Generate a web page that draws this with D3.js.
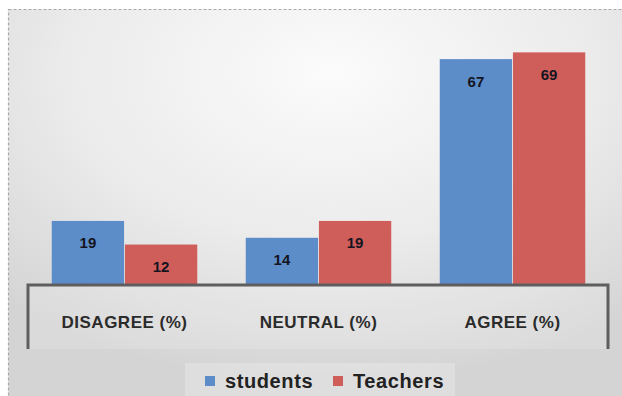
<!DOCTYPE html>
<html>
<head>
<meta charset="utf-8">
<script src="https://cdn.jsdelivr.net/npm/d3@7/dist/d3.min.js"></script>
<style>
  html, body { margin: 0; padding: 0; background: #fff; }
  svg { display: block; }
</style>
</head>
<body>
<div id="chart"></div>
<script>
// Survey responses, percentage per answer group
const categories = ["DISAGREE (%)", "NEUTRAL (%)", "AGREE (%)"];
const seriesNames = ["students", "Teachers"];
const students = [19, 14, 67];
const teachers = [12, 19, 69];
const seriesColors = ["#5c8dc9", "#cf5e5b"];

const W = 622, H = 396;
const svg = d3.select("#chart").append("svg").attr("width", W).attr("height", H);

// Chart area background: soft radial gradient with a dashed frame
const defs = svg.append("defs");
const bg = defs.append("radialGradient").attr("id", "bg")
  .attr("cx", "50%").attr("cy", "15%").attr("r", "75%");
bg.append("stop").attr("offset", "0%").attr("stop-color", "#fbfbfb");
bg.append("stop").attr("offset", "55%").attr("stop-color", "#ebebeb");
bg.append("stop").attr("offset", "100%").attr("stop-color", "#d4d4d4");

svg.append("rect")
  .attr("x", 8.5).attr("y", 9.5).attr("width", W + 20).attr("height", H + 20)
  .attr("fill", "url(#bg)")
  .attr("stroke", "#a8a8a8").attr("stroke-width", 1.2)
  .attr("stroke-dasharray", "3,2");

// Scales
const x = d3.scaleBand().domain(categories).range([27.5, 609.5])
  .paddingInner(0.25).paddingOuter(0.125);
const xs = d3.scaleBand().domain(seriesNames).range([0, x.bandwidth()]).paddingInner(0.012);
const y = d3.scaleLinear().domain([0, 70]).range([285, 49]);

const data = categories.map((c, i) => ({
  category: c,
  values: [
    { series: seriesNames[0], value: students[i], color: seriesColors[0] },
    { series: seriesNames[1], value: teachers[i], color: seriesColors[1] }
  ]
}));

// Floor box holding the category labels
const floorTop = y(0), floorBottom = 349;
svg.append("rect")
  .attr("x", 27.5).attr("y", floorTop)
  .attr("width", 581).attr("height", floorBottom - floorTop)
  .attr("fill", "#ffffff").attr("opacity", 0.15);

// Bars
const groups = svg.append("g").selectAll("g").data(data).join("g")
  .attr("transform", d => `translate(${x(d.category)},0)`);

groups.selectAll("rect").data(d => d.values).join("rect")
  .attr("x", d => xs(d.series))
  .attr("y", d => y(d.value))
  .attr("width", xs.bandwidth())
  .attr("height", d => y(0) - y(d.value))
  .attr("fill", d => d.color);

// Value labels just inside each bar top
groups.selectAll("text").data(d => d.values).join("text")
  .attr("x", d => xs(d.series) + xs.bandwidth() / 2)
  .attr("y", d => y(d.value) + 22)
  .attr("text-anchor", "middle")
  .attr("dominant-baseline", "central")
  .attr("font-family", "'Liberation Sans', Arial, sans-serif")
  .attr("font-weight", "bold")
  .attr("font-size", 15)
  .attr("fill", "#141420")
  .text(d => d.value);

// Floor outline: top edge plus the two side walls
svg.append("path")
  .attr("d", d3.line()([[28, floorBottom], [28, floorTop], [608, floorTop], [608, floorBottom]]))
  .attr("fill", "none")
  .attr("stroke", "#5e5e5e")
  .attr("stroke-width", 3);

// Category axis labels
const xAxis = d3.axisBottom(x).tickSize(0).tickPadding(0);
const axisG = svg.append("g").attr("transform", `translate(0,${floorTop + 43})`).call(xAxis);
axisG.select(".domain").remove();
axisG.selectAll("text")
  .attr("font-family", "'Liberation Sans', Arial, sans-serif")
  .attr("font-weight", "bold")
  .attr("font-size", 17)
  .attr("letter-spacing", 0.5)
  .attr("fill", "#2b2b2b")
  .attr("dy", "0");

// Legend
svg.append("rect")
  .attr("x", 185).attr("y", 363).attr("width", 270).attr("height", 40)
  .attr("fill", "#f2f2f2").attr("opacity", 0.35);

const legend = svg.append("g").attr("transform", "translate(205,376)");
const items = legend.selectAll("g").data(seriesNames).join("g")
  .attr("transform", (d, i) => `translate(${i * 128},0)`);
items.append("rect")
  .attr("width", 10).attr("height", 10)
  .attr("fill", (d, i) => seriesColors[i]);
items.append("text")
  .attr("x", 20).attr("y", 12)
  .attr("font-family", "'Liberation Sans', Arial, sans-serif")
  .attr("font-weight", "bold")
  .attr("font-size", 20)
  .attr("letter-spacing", 0.6)
  .attr("fill", "#222")
  .text(d => d);
</script>
</body>
</html>
